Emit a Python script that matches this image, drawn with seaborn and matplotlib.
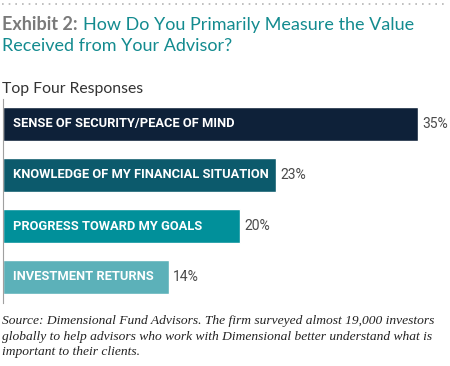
import matplotlib
matplotlib.use("Agg")
import matplotlib.pyplot as plt
from matplotlib.lines import Line2D
import seaborn as sns
import pandas as pd

# data
responses = ["SENSE OF SECURITY/PEACE OF MIND",
             "KNOWLEDGE OF MY FINANCIAL SITUATION",
             "PROGRESS TOWARD MY GOALS",
             "INVESTMENT RETURNS"]
shares = [35, 23, 20, 14]
bar_colors = ["#0e2139", "#0c5a6c", "#01909a", "#5cb1b9"]

df = pd.DataFrame({"response": responses, "share": shares})

sns.set_theme(style="white")
plt.rcParams["font.family"] = ["Lato", "DejaVu Sans"]

W, H = 450, 366
fig = plt.figure(figsize=(W / 100, H / 100), dpi=100)

# axes placed in pixel terms: left 3px, top 98.5px, bottom 302.5px
ax = fig.add_axes([3 / W, 1 - 302.5 / H, 445 / W, 204 / H])
sns.barplot(data=df, y="response", x="share", hue="response",
            palette=bar_colors, orient="h", width=0.67, legend=False,
            saturation=1, ax=ax)
ax.set_xlim(0, 445 / 11.86)
ax.set_ylim(3.5, -0.5)
ax.set_xlabel("")
ax.set_ylabel("")
ax.set_xticks([])
ax.set_yticks([])
for s in ["top", "right", "bottom"]:
    ax.spines[s].set_visible(False)
ax.spines["left"].set_color("#a0a0a0")
ax.spines["left"].set_linewidth(0.8)

for i, (label, v) in enumerate(zip(responses, shares)):
    ax.text(0.85, i, label, color="white", fontsize=9.3, fontweight="bold",
            family=["Roboto", "DejaVu Sans"],
            va="center", ha="left")
    ax.text(v + 0.35, i, f"{v}%", color="#4a4a4a", fontsize=10,
            family=["Roboto", "DejaVu Sans"], va="center", ha="left")

# dotted rule at the top
fig.add_artist(Line2D([0.005, 0.995], [1 - 4 / H, 1 - 4 / H],
                      transform=fig.transFigure, color="#b5b5b5",
                      linestyle=(0, (1, 3)), linewidth=1.2))

# title
t1 = fig.text(2 / W, 1 - 30 / H, "Exhibit 2:", fontsize=13, fontweight="bold",
              color="#7a7a7a", va="baseline", ha="left")
fig.canvas.draw()
bb = t1.get_window_extent()
fig.text((bb.x1 + 5) / W, 1 - 30 / H, "How Do You Primarily Measure the Value",
         fontsize=13, color="#138b8f", va="baseline", ha="left")
fig.text(2 / W, 1 - 51 / H, "Received from Your Advisor?", fontsize=13,
         color="#138b8f", va="baseline", ha="left")

fig.text(2 / W, 1 - 93 / H, "Top Four Responses", fontsize=11.3,
         color="#333333", va="baseline", ha="left")

source = ("Source: Dimensional Fund Advisors. The firm surveyed almost 19,000 investors\n"
          "globally to help advisors who work with Dimensional better understand what is\n"
          "important to their clients.")
fig.text(2 / W, 1 - 315 / H, source, fontsize=9.7, style="italic",
         family=["Liberation Serif", "DejaVu Serif"], color="#222222",
         va="top", ha="left", linespacing=1.4)

fig.savefig("out.png", dpi=100)
